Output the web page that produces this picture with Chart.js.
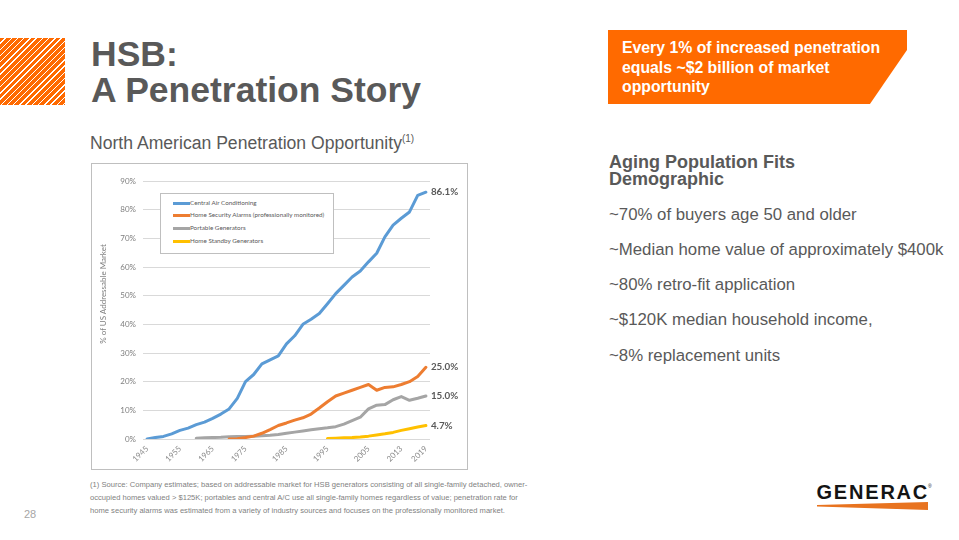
<!DOCTYPE html>
<html><head><meta charset="utf-8">
<script src="https://cdn.jsdelivr.net/npm/chart.js@4.4.1/dist/chart.umd.min.js"></script>
<style>
html,body{margin:0;padding:0;background:#fff;}
body{width:959px;height:540px;position:relative;overflow:hidden;font-family:"Liberation Sans",Arial,sans-serif;color:#595959;}
.abs{position:absolute;white-space:nowrap;}
#hatch{left:0;top:38px;width:65px;height:67px;background:repeating-linear-gradient(135deg,#FF6A00 0 3.4px,#fff 3.4px 4.4px);}
#title{left:91px;top:36.3px;font-size:35.5px;line-height:36px;font-weight:bold;color:#595959;}
#subtitle{left:90px;top:132.5px;font-size:17.6px;line-height:20px;color:#595959;}
#subtitle sup{font-size:10px;vertical-align:7px;line-height:0;}
#callout{left:608px;top:30px;width:299px;height:74px;background:#FF6A00;clip-path:polygon(0 0,100% 0,100% 27%,87.6% 100%,0 100%);}
#callout-text{left:622px;top:38px;font-size:15.8px;line-height:19.5px;font-weight:bold;color:#fff;}
#aging{left:609px;top:154.3px;font-size:18px;line-height:17px;font-weight:bold;color:#595959;}
#bullets{left:609px;top:196.8px;font-size:16.8px;line-height:35.2px;color:#595959;}
#chartbox{left:91px;top:163px;width:377px;height:307px;border:1px solid #bfbfbf;box-sizing:border-box;background:#fff;}
#chartwrap{position:absolute;left:0;top:0;width:375px;height:305px;}
#legend{left:68px;top:29px;width:174px;height:61px;border:1px solid #bfbfbf;background:#fff;box-sizing:border-box;padding-top:2.6px;font-family:Lato,sans-serif;font-size:6.3px;color:#595959;}
#legend .row{height:12.7px;line-height:12.7px;padding-left:12px;}
#legend .sw{display:inline-block;width:17px;height:3px;vertical-align:middle;margin-right:0px;}
#ytitle{left:43px;top:289px;width:120px;height:10px;line-height:10px;text-align:center;font-family:Lato,sans-serif;font-size:8px;color:#7f7f7f;transform:rotate(-90deg);}
#foot{left:90px;top:478px;font-size:7.6px;line-height:13px;color:#7f7f7f;}
#page{left:24px;top:507.7px;font-size:11px;line-height:13px;color:#a6a6a6;}
#logo{left:816.5px;top:482.4px;font-size:20px;line-height:20px;font-weight:bold;letter-spacing:1.8px;color:#141414;}
#reg{left:928px;top:484px;font-size:5px;line-height:5px;color:#141414;}
#swoosh{left:817px;top:502px;width:111px;height:8px;background:#E8731F;clip-path:polygon(0 38%,100% 0,100% 100%,0 55%);}
</style>
</head>
<body>
<div id="hatch" class="abs"></div>
<div id="title" class="abs">HSB:<br>A Penetration Story</div>
<div id="subtitle" class="abs">North American Penetration Opportunity<sup>(1)</sup></div>
<div id="callout" class="abs"></div>
<div id="callout-text" class="abs">Every 1% of increased penetration<br>equals ~$2 billion of market<br>opportunity</div>
<div id="aging" class="abs">Aging Population Fits<br>Demographic</div>
<div id="bullets" class="abs">~70% of buyers age 50 and older<br>~Median home value of approximately $400k<br>~80% retro-fit application<br>~$120K median household income,<br>~8% replacement units</div>

<div id="chartbox" class="abs">
  <div id="chartwrap"><canvas id="c"></canvas></div>
  <div id="legend" class="abs"></div>
</div>
<div id="ytitle" class="abs">% of US Addressable Market</div>

<div id="foot" class="abs">(1) Source: Company estimates; based on addressable market for HSB generators consisting of all single-family detached, owner-<br>occupied homes valued &gt; $125K; portables and central A/C use all single-family homes regardless of value; penetration rate for<br>home security alarms was estimated from a variety of industry sources and focuses on the professionally monitored market.</div>
<div id="page" class="abs">28</div>
<div id="logo" class="abs">GENERAC</div>
<div id="reg" class="abs">®</div>
<div id="swoosh" class="abs"></div>

<script>
const categories = ['1945','1947','1950','1952','1955','1957','1960','1962','1965','1967','1970','1972',
  '1975','1977','1979','1981','1983','1985','1987','1989','1991','1993','1995','1997','1999',
  '2001','2003','2005','2007','2009','2011','2013','2015','2017','2019'];
const shownYears = ['1945','1955','1965','1975','1985','1995','2005','2013','2019'];

const centralAir = [0, 0.5, 0.9, 1.8, 3.0, 3.8, 5.0, 5.9, 7.2, 8.7, 10.5, 14.2,
  20.0, 22.5, 26.2, 27.6, 29.0, 33.2, 36.0, 40.0, 41.8, 43.8, 47.2, 50.7, 53.6,
  56.5, 58.6, 61.8, 64.8, 70.5, 74.6, 77.0, 79.2, 85.0, 86.1];
const securityAlarms = [null, null, null, null, null, null, null, null, null, null, 0, 0.1,
  0.5, 1.0, 2.0, 3.3, 4.7, 5.6, 6.6, 7.4, 8.7, 10.8, 13.0, 15.0, 16.0,
  17.0, 18.0, 19.0, 17.0, 18.0, 18.2, 19.0, 20.0, 21.8, 25.0];
const portableGen = [null, null, null, null, null, null, 0.3, 0.4, 0.5, 0.6, 0.8, 0.9,
  0.9, 1.0, 1.1, 1.3, 1.6, 2.0, 2.4, 2.8, 3.2, 3.6, 3.9, 4.3, 5.2,
  6.4, 7.6, 10.5, 11.8, 12.0, 13.7, 14.8, 13.5, 14.2, 15.0];
const standbyGen = [null, null, null, null, null, null, null, null, null, null, null, null,
  null, null, null, null, null, null, null, null, null, null, 0.2, 0.3, 0.4,
  0.5, 0.7, 1.0, 1.4, 1.8, 2.3, 3.0, 3.6, 4.2, 4.7];

const seriesNames = ['Central Air Conditioning','Home Security Alarms (professionally monitored)','Portable Generators','Home Standby Generators'];
const seriesColors = ['#5B9BD5','#ED7D31','#A5A5A5','#FFC000'];
const seriesData = [centralAir, securityAlarms, portableGen, standbyGen];
const yMin = 0, yMax = 90, yStep = 10;

// HTML legend built from the series arrays
const leg = document.getElementById('legend');
seriesNames.forEach((n,i)=>{
  const r = document.createElement('div'); r.className='row';
  const sw = document.createElement('span'); sw.className='sw'; sw.style.background=seriesColors[i];
  r.appendChild(sw); r.appendChild(document.createTextNode(n)); leg.appendChild(r);
});

const endLabels = {
  id:'endLabels',
  afterDatasetsDraw(chart){
    const ctx = chart.ctx; ctx.save();
    ctx.font = 'bold 9.8px Lato, sans-serif'; ctx.fillStyle = '#595959';
    ctx.textBaseline = 'middle'; ctx.textAlign = 'left';
    chart.data.datasets.forEach((ds,i)=>{
      const meta = chart.getDatasetMeta(i);
      const last = ds.data.length-1;
      const pt = meta.data[last];
      ctx.fillText(ds.data[last].toFixed(1)+'%', pt.x+5, pt.y);
    });
    ctx.restore();
  }
};

new Chart(document.getElementById('c'), {
  type:'line',
  data:{
    labels: categories,
    datasets: seriesData.map((d,i)=>({
      label: seriesNames[i], data: d, borderColor: seriesColors[i], backgroundColor: seriesColors[i],
      borderWidth: 3, pointRadius: 0, tension: 0, fill: false, spanGaps: false,
      borderCapStyle: 'round', borderJoinStyle: 'round'
    }))
  },
  options:{
    responsive:true, maintainAspectRatio:false, animation:false, devicePixelRatio:1,
    layout:{padding:{left:0, top:17, right:37, bottom:0}},
    plugins:{legend:{display:false}, tooltip:{enabled:false}},
    scales:{
      x:{type:'category', offset:true,
        grid:{display:false, drawTicks:false}, border:{display:false},
        ticks:{autoSkip:false, maxRotation:45, minRotation:45, padding:5, color:'#8c8c8c',
          font:{family:'Lato', size:8},
          callback(v){ const l = this.getLabelForValue(v); return shownYears.includes(l) ? l : ''; }},
        afterFit(s){ s.height = 30; }
      },
      y:{min:yMin, max:yMax,
        ticks:{stepSize:yStep, callback:v=>v+'%', color:'#7f7f7f', font:{family:'Lato', size:8}, padding:7},
        grid:{color:'#d9d9d9', drawTicks:false, lineWidth:1}, border:{display:false},
        afterFit(s){ s.width = 51; }
      }
    }
  },
  plugins:[endLabels]
});
</script>
</body></html>
